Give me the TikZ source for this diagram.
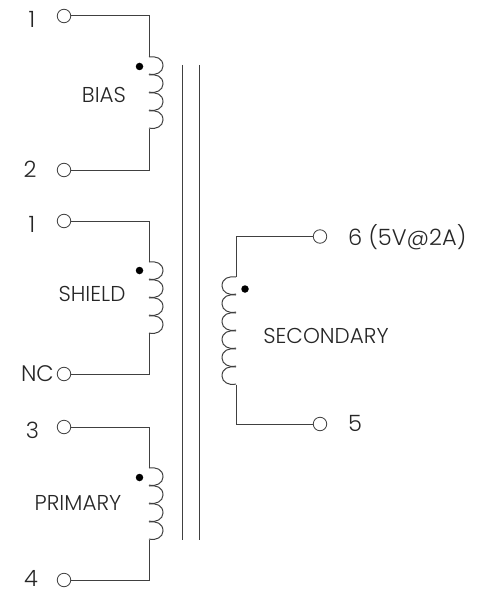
\documentclass[tikz,border=0pt]{standalone}
\usepackage{fontspec}
\usetikzlibrary{calc}
\setmainfont{Poppins Light}
\definecolor{wire}{gray}{0.25}
\definecolor{txt}{gray}{0.15}
\tikzset{
  pin/.style={draw=wire, circle, fill=white, inner sep=0pt, minimum size=13.5pt, line width=0.8pt},
  lbl/.style={text=txt, inner sep=0pt, font=\fontsize{22.5}{22.5}\selectfont},
  tag/.style={text=txt, inner sep=0pt, font=\fontsize{21.5}{21.5}\selectfont},
  lead/.style={draw=wire, line width=1pt},
  core/.style={draw=wire, line width=1pt},
  phasedot/.style={circle, fill=black, inner sep=0pt, minimum size=7.5pt}
}
% one hump of a winding, #1 = start, #2 = side (1 right, -1 left)
\newcommand\Hump[2]{
  \begin{scope}[shift={(#1)}, xscale=#2]
    \draw[lead] (0, 0) .. controls (7, -1) and (14, 1) .. (14, 9)
      .. controls (14, 15) and (7, 19) .. (0, 17);
  \end{scope}
}
\begin{document}
\begin{tikzpicture}[x=1pt, y=-1pt]
  \useasboundingbox (0, 0) rectangle (481, 591);

  \newcommand\Y{18};

  %% left side
  \node[pin] (biasa) at (64, 16) {};
  \node[pin] (biasb) at (64, 170) {};
  \node[pin] (shielda) at (64, 221) {};
  \node[pin] (shieldb) at (64, 374) {};
  \node[pin] (prima) at (64, 427) {};
  \node[pin] (primb) at (64, 580) {};

  %% right side
  \node[pin] (seca) at (320, 236.5) {};
  \node[pin] (secb) at (320, 424) {};

  \coordinate (biastop) at (149, 57);
  \coordinate (biasbot) at (149, 129);
  \coordinate (shieldtop) at (149, 262);
  \coordinate (shieldbot) at (149, 333);
  \coordinate (primtop) at (149, 468);
  \coordinate (primbot) at (149, 540);
  \coordinate (sectop) at (236, 277);
  \coordinate (secbot) at (236, 385);

  \draw[lead] (biasa) -| (biastop); % BIAS
  \draw[lead] (biasb) -| (biasbot);
  \draw[lead] (shielda) -| (shieldtop); % SHIELD
  \draw[lead] (shieldb) -| (shieldbot);
  \draw[lead] (prima) -| (primtop); % PRIMARY
  \draw[lead] (primb) -| (primbot);
  \draw[lead] (seca) -| (sectop); % SECONDARY
  \draw[lead] (secb) -| (secbot);

  \foreach \i in {0,...,3} {
    \Hump{$(biastop)+(0, \i*\Y)$}{1}
    \Hump{$(shieldtop)+(0, \i*\Y)$}{1}
    \Hump{$(primtop)+(0, \i*\Y)$}{1}
  }
  \foreach \i in {0,...,5} {
    \Hump{$(sectop)+(0, \i*\Y)$}{-1}
  }

  \node[phasedot] (biasdot) at (139.5, 66.5) {};
  \node[phasedot] (shielddot) at (139.5, 270.5) {};
  \node[phasedot] (primdot) at (139.5, 477.5) {};
  \node[phasedot] (secdot) at (245, 289) {};

  %% core
  \coordinate (corea) at (182.5, 65);
  \coordinate (coreb) at (182.5, 540);
  \coordinate (corec) at (199, 65);
  \coordinate (cored) at (199, 540);
  \draw[core] (corea) -- (coreb);
  \draw[core] (corec) -- (cored);

  \node[lbl] (numa) at (32, 19) {1};
  \node[lbl] (numb) at (30, 169) {2};
  \node[lbl] (numc) at (32, 224) {1};
  \node[lbl, anchor=east] (numd) at (54, 374) {NC};
  \node[lbl] (nume) at (32.5, 430) {3};
  \node[lbl] (numf) at (31, 578) {4};
  \node[lbl, anchor=west] (numg) at (348, 237.5) {6 (5V@2A)};
  \node[lbl, anchor=west] (numh) at (348, 423) {5};

  \node[tag] (biastag) at (104, 95) {BIAS};
  \node[tag] (shieldtag) at (92, 294) {SHIELD};
  \node[tag] (primtag) at (78, 503) {PRIMARY};
  \node[tag] (sectag) at (326, 336) {SECONDARY};
\end{tikzpicture}
\end{document}
